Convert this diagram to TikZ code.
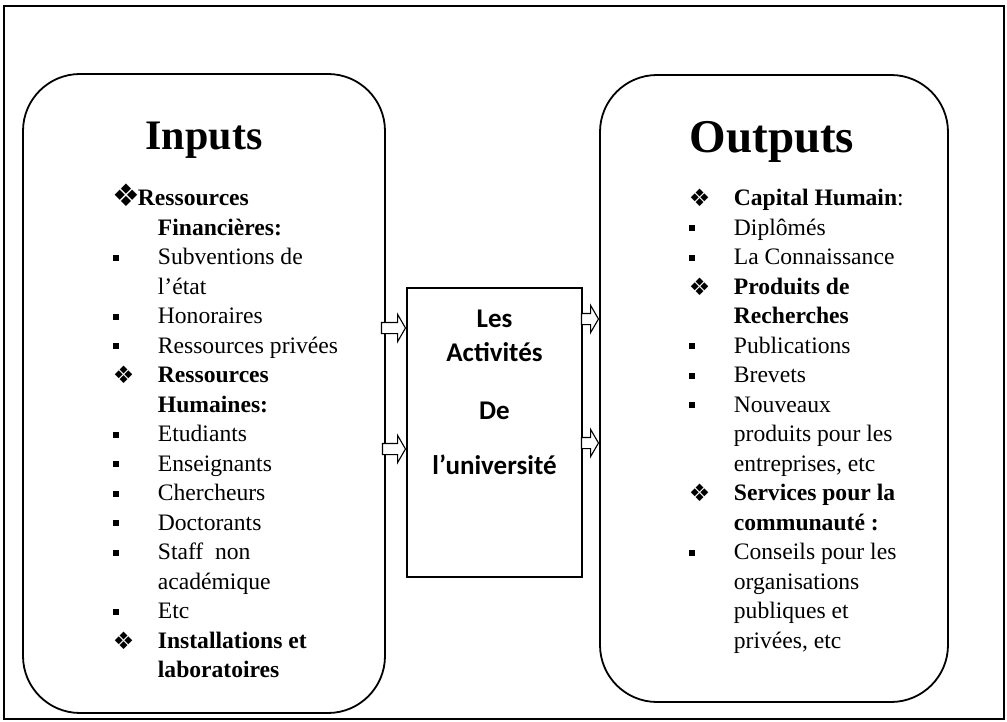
\documentclass[tikz,border=0pt]{standalone}
\usepackage{fontspec}
\setmainfont{Liberation Serif}
\newfontfamily\calib{Carlito}
\newfontfamily\dejav{DejaVu Sans}
\usetikzlibrary{shapes.arrows,positioning}

\newcommand{\dia}[1][24]{\raisebox{-1pt}{\dejav\fontsize{#1}{#1}\selectfont ❖}}
\newcommand{\sqr}{\raisebox{4pt}{\rule{6pt}{6pt}}}
\newcommand{\itsq}{\makebox[45pt][l]{\sqr}}
\newcommand{\itdia}{\makebox[45pt][l]{\dia}}
\newcommand{\itgap}{\hspace*{45pt}}

\begin{document}
\begin{tikzpicture}[x=1pt,y=-1pt,line width=1.8pt,
	roundbox/.style={draw,rounded corners=57pt,inner sep=0pt},
	actbox/.style={draw,minimum width=175pt,minimum height=289pt,inner sep=0pt},
	head/.style={font=\bfseries\fontsize{42}{42}\selectfont,inner sep=0pt},
	lst/.style={align=left,inner sep=0pt,font=\fontsize{23.6}{29.5}\selectfont},
	acttext/.style={align=center,inner sep=0pt,font=\calib\bfseries\fontsize{27}{34}\selectfont},
	blockarr/.style={single arrow,draw,fill=white,line width=1.1pt,inner sep=0pt,
		single arrow head extend=8pt,single arrow tip angle=120,anchor=tip}]
	\useasboundingbox (0,0) rectangle (1007,722);
	\draw[line width=1.3pt] (4,6) rectangle (1004,719);

	\node[roundbox,minimum width=362pt,minimum height=639pt]	(inbox)	at (204,393.5)	{};
	\node[roundbox,minimum width=348pt,minimum height=627pt]	(outbox)	at (774,388.5)	{};
	\node[actbox]						(activ)	at (494.5,432.5)	{};

	\node[head,anchor=base]					(inhead)	at (204,150)	{Inputs};
	\node[head,anchor=base,font=\bfseries\fontsize{47}{47}\selectfont]	(outhead)	at (772,153)	{Outputs};

	% liste des entrees
	\node[lst,anchor=north west]	(inlist)	at (112,183.4)	{\strut\makebox[25pt][l]{\dia[31]}\textbf{Ressources}\\
		\itgap\textbf{Financières:}\\
		\itsq Subventions de\\
		\itgap l’état\\
		\itsq Honoraires\\
		\itsq Ressources privées\\
		\itdia\textbf{Ressources}\\
		\itgap\textbf{Humaines:}\\
		\itsq Etudiants\\
		\itsq Enseignants\\
		\itsq Chercheurs\\
		\itsq Doctorants\\
		\itsq Staff\ \ non\\
		\itgap académique\\
		\itsq Etc\\
		\itdia\textbf{Installations et}\\
		\itgap\textbf{laboratoires}};

	% liste des sorties
	\node[lst,anchor=north west]	(outlist)	at (688,184.4)	{\strut\itdia\textbf{Capital Humain}:\\
		\itsq Diplômés\\
		\itsq La Connaissance\\
		\itdia\textbf{Produits de}\\
		\itgap\textbf{Recherches}\\
		\itsq Publications\\
		\itsq Brevets\\
		\itsq Nouveaux\\
		\itgap produits pour les\\
		\itgap entreprises, etc\\
		\itdia\textbf{Services pour la}\\
		\itgap\textbf{communauté :}\\
		\itsq Conseils pour les\\
		\itgap organisations\\
		\itgap publiques et\\
		\itgap privées, etc};

	\node[acttext,anchor=north]	(actlbl)	at (activ.center |- 0,303.2)	{\strut Les\\Activités\\[24pt]De\\[21pt]l’université};

	% fleches
	\node[blockarr,minimum height=24pt]	(in1)	at (activ.west |- 0,328)	{\rule{0pt}{10pt}};
	\node[blockarr,minimum height=23pt]	(in2)	at (activ.west |- 0,449)	{\rule{0pt}{10pt}};
	\node[blockarr,minimum height=17pt]	(out1)	at (outbox.west |- 0,319)	{\rule{0pt}{10pt}};
	\node[blockarr,minimum height=17pt]	(out2)	at (outbox.west |- 0,443)	{\rule{0pt}{10pt}};
\end{tikzpicture}
\end{document}
